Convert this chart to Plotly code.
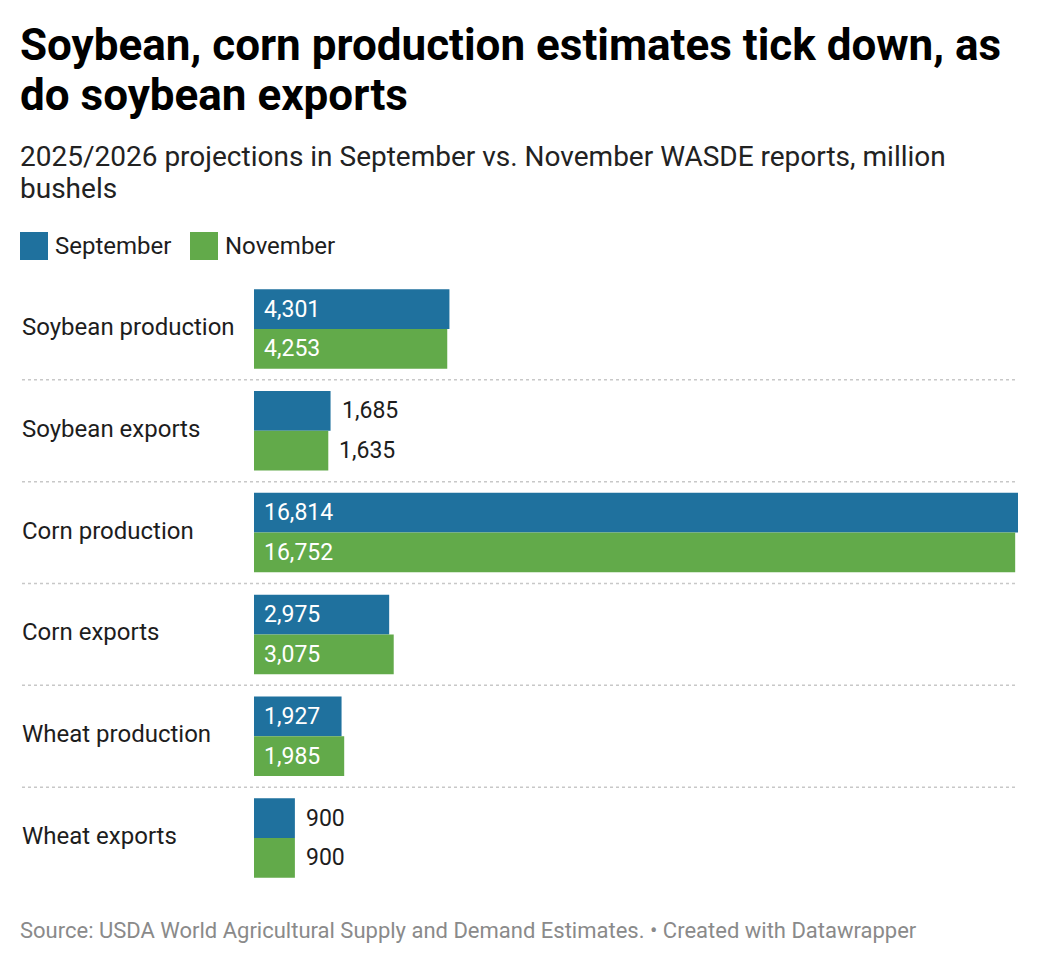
import plotly.graph_objects as go

categories = ["Soybean production", "Soybean exports", "Corn production",
              "Corn exports", "Wheat production", "Wheat exports"]
september = [4301, 1685, 16814, 2975, 1927, 900]
november = [4253, 1635, 16752, 3075, 1985, 900]
series_names = ["September", "November"]

BLUE = "#1f719e"
GREEN = "#62aa4a"
DARK = "#1d1d1d"
FONT = "Roboto"

W, H = 1040, 964
L, R, T, B = 254, 22, 278, 75
PW = W - L - R
PH = H - T - B
XMAX = max(september + november)
BW = 0.3905


def px(x):
    return (x - L) / PW


def py(y):
    return (H - B - y) / PH


n = len(categories)
ys = list(range(n))

fig = go.Figure()
fig.add_trace(go.Bar(y=ys, x=september, orientation="h", name=series_names[0],
                     marker=dict(color=BLUE, line=dict(width=0)),
                     width=BW, offset=-BW, hoverinfo="skip"))
fig.add_trace(go.Bar(y=ys, x=november, orientation="h", name=series_names[1],
                     marker=dict(color=GREEN, line=dict(width=0)),
                     width=BW, offset=0, hoverinfo="skip"))

ann = []
shapes = []

# value labels
for vals, off in ((september, -BW / 2), (november, BW / 2)):
    for i, v in enumerate(vals):
        bar_px = v * PW / XMAX
        txt = f"{v:,}"
        inside = bar_px > 80
        ann.append(dict(
            x=0 if inside else v, y=i + off, xref="x", yref="y",
            text=txt, showarrow=False, xanchor="left", yanchor="middle",
            xshift=8 if inside else 9,
            font=dict(family=FONT, size=23, color="white" if inside else DARK)))

# category labels
for i, c in enumerate(categories):
    ann.append(dict(x=px(20), y=i, xref="paper", yref="y", text=c,
                    showarrow=False, xanchor="left", yanchor="middle", yshift=2,
                    font=dict(family=FONT, size=24, color=DARK)))

# separators
for i in range(n - 1):
    shapes.append(dict(type="line", xref="paper", yref="y",
                       x0=px(22), x1=1, y0=i + 0.5, y1=i + 0.5,
                       line=dict(color="#c8c8c8", width=1.5, dash="dot")))

# title / subtitle / footer
ann.append(dict(x=px(18), y=py(45), xref="paper", yref="paper",
                text="<b>Soybean, corn production estimates tick down, as</b>",
                showarrow=False, xanchor="left", yanchor="middle",
                font=dict(family=FONT, size=44, color="#000")))
ann.append(dict(x=px(18), y=py(95), xref="paper", yref="paper",
                text="<b>do soybean exports</b>",
                showarrow=False, xanchor="left", yanchor="middle",
                font=dict(family=FONT, size=44, color="#000")))
ann.append(dict(x=px(18), y=py(156), xref="paper", yref="paper",
                text="2025/2026 projections in September vs. November WASDE reports, million",
                showarrow=False, xanchor="left", yanchor="middle",
                font=dict(family=FONT, size=28, color="#222")))
ann.append(dict(x=px(18), y=py(188), xref="paper", yref="paper",
                text="bushels",
                showarrow=False, xanchor="left", yanchor="middle",
                font=dict(family=FONT, size=28, color="#222")))
ann.append(dict(x=px(18), y=py(930), xref="paper", yref="paper",
                text="Source: USDA World Agricultural Supply and Demand Estimates. • Created with Datawrapper",
                showarrow=False, xanchor="left", yanchor="middle",
                font=dict(family=FONT, size=22, color="#8a8a8a")))

# legend
for name, col, x0 in ((series_names[0], BLUE, 20), (series_names[1], GREEN, 190)):
    shapes.append(dict(type="rect", xref="paper", yref="paper",
                       x0=px(x0), x1=px(x0 + 28), y0=py(260), y1=py(232),
                       fillcolor=col, line=dict(width=0)))
    ann.append(dict(x=px(x0 + 33), y=py(246), xref="paper", yref="paper",
                    text=name, showarrow=False, xanchor="left", yanchor="middle",
                    font=dict(family=FONT, size=24, color=DARK)))

fig.update_layout(
    width=W, height=H,
    margin=dict(l=L, r=R, t=T, b=B, pad=0),
    paper_bgcolor="white", plot_bgcolor="white",
    showlegend=False,
    barmode="overlay",
    xaxis=dict(range=[0, XMAX], visible=False, fixedrange=True),
    yaxis=dict(range=[n - 0.5, -0.5], visible=False, fixedrange=True),
    annotations=ann, shapes=shapes,
    font=dict(family=FONT),
)

fig.write_html("out.html", config={"displayModeBar": False})
